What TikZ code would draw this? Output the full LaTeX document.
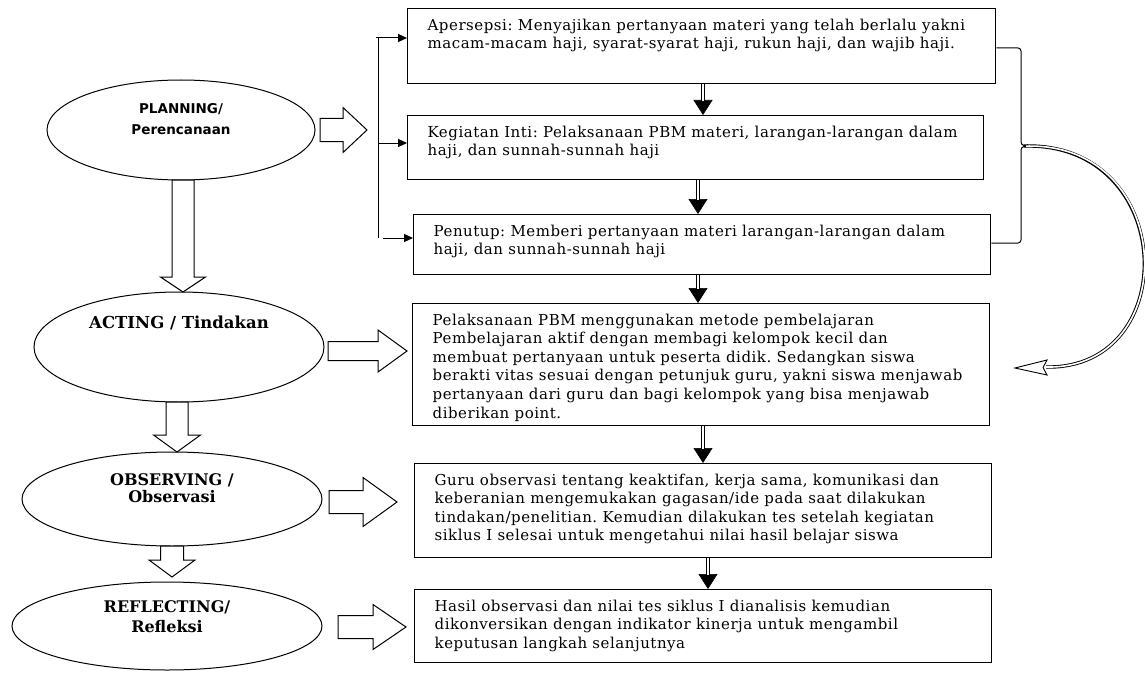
\documentclass[tikz,border=0pt]{standalone}
\usepackage{fontspec}
\setmainfont{DejaVu Serif}
\newfontfamily\boxfont[LetterSpace=3.5]{DejaVu Serif}
\newfontfamily\ovsans{DejaVu Sans}
\usetikzlibrary{shapes.geometric,arrows.meta,calc}
\frenchspacing
\newcommand\toptext[3]{\parbox[c][#1pt][t]{#2pt}{\raggedright\vspace*{3pt}#3}}
\newcommand\ddown[2]{%
  \draw[line width=0.6pt,-{Triangle[length=15pt,width=19pt]}] #1 -- #2;
  \draw[double,double distance=2.4pt,line width=0.8pt,shorten >=14pt] #1 -- #2;}
\newcommand\harrow[6]{% x0 x1 x2 yc shaft-half head-half
  \draw[fat] (#1,{#4-#5}) -- (#2,{#4-#5}) -- (#2,{#4-#6}) -- (#3,#4) -- (#2,{#4+#6}) -- (#2,{#4+#5}) -- (#1,{#4+#5}) -- cycle;}
\newcommand\varrow[6]{% y0 y1 y2 xc shaft-half head-half
  \draw[fat] ({#4-#5},#1) -- ({#4-#5},#2) -- ({#4-#6},#2) -- (#4,#3) -- ({#4+#6},#2) -- ({#4+#5},#2) -- ({#4+#5},#1) -- cycle;}
\tikzset{
  box/.style={draw,line width=1.3pt,anchor=north west,inner xsep=20pt,inner ysep=7pt,
    font=\boxfont\fontsize{15}{18.6}\selectfont\frenchspacing},
  oval/.style={draw,ellipse,line width=1pt,inner sep=0pt,align=center},
  fat/.style={draw,line width=1pt,fill=white,line join=miter},
  thinarrow/.style={-{Triangle[length=9pt,width=8pt]},line width=1pt},
}
\begin{document}
\begin{tikzpicture}[x=1pt,y=-1pt]
\useasboundingbox (0,0) rectangle (1145,674);
% boxes
\node[box] (b1) at (407,8) {\toptext{61}{548}{Apersepsi: Menyajikan pertanyaan materi yang telah berlalu yakni\\ macam-macam haji, syarat-syarat haji, rukun haji, dan wajib haji.}};
\node[box] (b2) at (407,115) {\toptext{50}{536}{Kegiatan Inti: Pelaksanaan PBM materi, larangan-larangan dalam\\ haji, dan sunnah-sunnah haji}};
\node[box] (b3) at (413,214) {\toptext{46}{537}{Penutup: Memberi pertanyaan materi larangan-larangan dalam\\ haji, dan sunnah-sunnah haji}};
\node[box] (b4) at (412,303) {\toptext{108}{537}{Pelaksanaan PBM menggunakan metode pembelajaran\\ Pembelajaran aktif dengan membagi kelompok kecil dan\\ membuat pertanyaan untuk peserta didik. Sedangkan siswa\\ berakti vitas sesuai dengan petunjuk guru, yakni siswa menjawab\\ pertanyaan dari guru dan bagi kelompok yang bisa menjawab\\ diberikan point.}};
\node[box] (b5) at (414,463) {\toptext{80}{537}{Guru observasi tentang keaktifan, kerja sama, komunikasi dan\\ keberanian mengemukakan gagasan/ide pada saat dilakukan\\ tindakan/penelitian. Kemudian dilakukan tes setelah kegiatan\\ siklus I selesai untuk mengetahui nilai hasil belajar siswa}};
\node[box] (b6) at (414,589) {\toptext{59}{537}{Hasil observasi dan nilai tes siklus I dianalisis kemudian\\ dikonversikan dengan indikator kinerja untuk mengambil\\ keputusan langkah selanjutnya}};
% ellipses
\node[oval,minimum width=268pt,minimum height=100pt,font=\ovsans\bfseries\fontsize{13.5}{21}\selectfont,text depth=22pt] (plan) at (181,130) {PLANNING/\\Perencanaan};
\node[oval,minimum width=290pt,minimum height=110pt,font=\bfseries\fontsize{16.5}{20}\selectfont,text depth=50pt] (act) at (179,347) {ACTING / Tindakan};
\node[oval,minimum width=300pt,minimum height=94pt,font=\bfseries\fontsize{16}{17}\selectfont,text depth=21pt] (obs) at (172,499) {OBSERVING /\\Observasi};
\node[oval,minimum width=310pt,minimum height=88pt,font=\bfseries\fontsize{16}{20}\selectfont,text depth=18pt] (ref) at (167,626) {REFLECTING/\\Refleksi};
% double down arrows
\coordinate (k1) at (703,0);
\coordinate (k2) at (698,0);
\coordinate (k3) at (703,0);
\coordinate (k4) at (708,0);
\ddown{(b1.south -| k1)}{(b2.north -| k1)}
\ddown{(b2.south -| k2)}{(b3.north -| k2)}
\ddown{(b3.south -| k2)}{(b4.north -| k2)}
\ddown{(b4.south -| k3)}{(b5.north -| k3)}
\ddown{(b5.south -| k4)}{(b6.north -| k4)}
% left double bracket
\coordinate (lt) at (376.5,38);
\coordinate (lb) at (376.5,238);
\draw[double,double distance=2.4pt,line width=0.8pt] (lt) -- (lb);
\draw[thinarrow] (375.5,38) -- (b1.west |- 0,38);
\draw[thinarrow] (379,143) -- (b2.west |- 0,143);
\draw[thinarrow] (383,238) -- (b3.west |- 0,238);
% block arrows
\harrow{320}{343}{367}{130}{11.5}{22.5}
\varrow{180}{277}{292}{183}{11}{22.5}
\harrow{328}{378}{407}{351}{9.5}{21}
\varrow{402}{435}{452}{177}{11}{23.5}
\harrow{329}{363}{397}{502}{11.5}{24.5}
\varrow{546}{560}{577}{172}{11.5}{23}
\harrow{338}{373}{406}{627}{11.5}{22.5}
% right bracket
\draw[line width=1pt,rounded corners=3pt] (b1.east |- 0,48) -- (1021,48) -- (1021,145) -- (1027,146);
\draw[line width=1pt,rounded corners=3pt] (1027,146) -- (1021,147) -- (1021,243) -- (b3.east |- 0,243);
% curved return arrow
\coordinate (cs) at (1024,146);
\coordinate (ce) at (1046,367);
\draw[line width=3.4pt] (cs) .. controls (1178,142) and (1183,370) .. (ce);
\draw[line width=1.6pt,white] (1026,146.1) .. controls (1178,142) and (1183,370) .. (ce);
\draw[line width=0.9pt,fill=white,line join=miter] (1015,368) -- (1047,360) -- (1043,367.5) -- (1047,375) -- cycle;
\end{tikzpicture}
\end{document}
